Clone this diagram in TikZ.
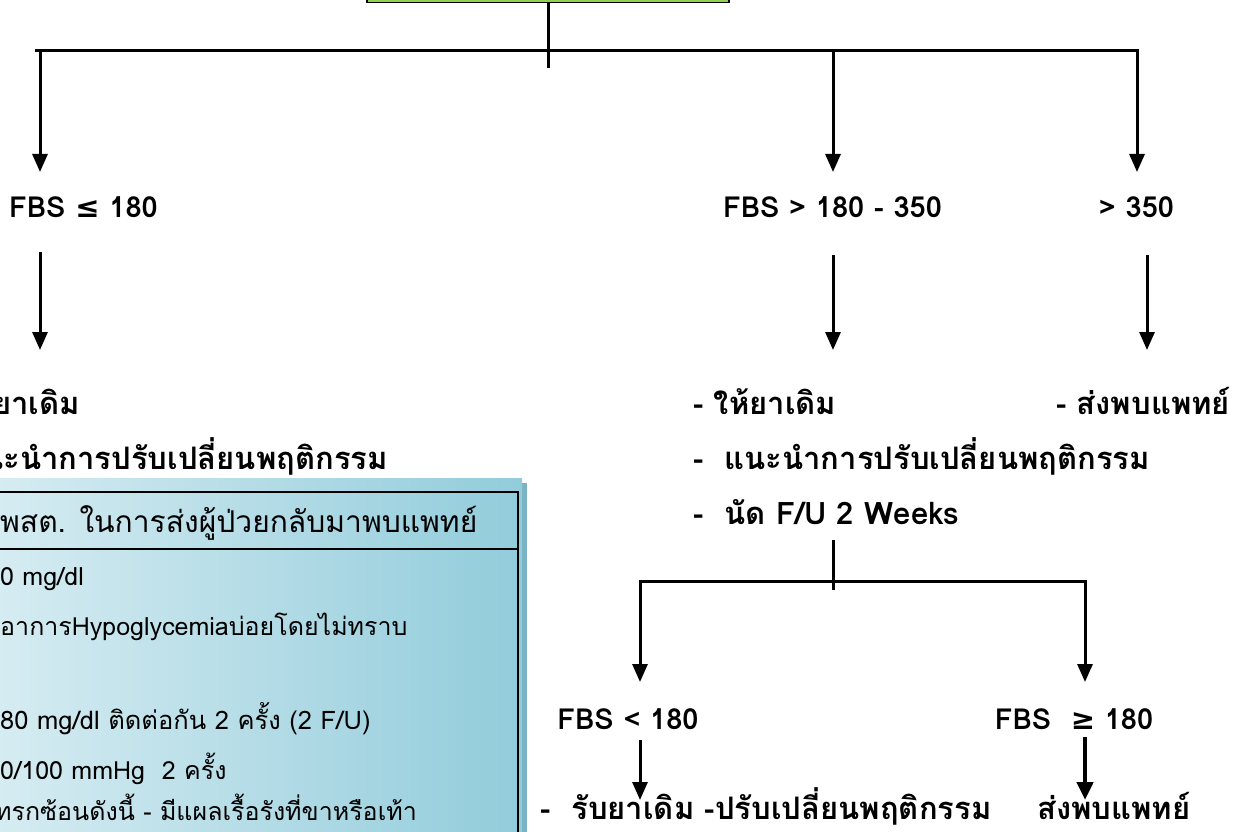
\documentclass[tikz,border=0pt]{standalone}
\usepackage{fontspec}
\setmainfont[Script=Thai]{Loma}
\newfontfamily\symf{DejaVu Sans}
\usetikzlibrary{arrows.meta}
\definecolor{topgreen}{HTML}{92D050}
\definecolor{bluel}{HTML}{D6ECF2}
\definecolor{blued}{HTML}{92CCDB}
\definecolor{blueshadow}{HTML}{7AB3C3}
\begin{document}
\begin{tikzpicture}[x=1pt,y=-1pt,
  lbl/.style={font=\fontsize{31}{34}\selectfont\bfseries, inner sep=0pt},
  fbs/.style={font=\fontsize{29}{32}\selectfont\bfseries, inner sep=0pt, anchor=base},
  tbl/.style={font=\fontsize{25}{28}\selectfont, inner sep=0pt, anchor=base west},
  conn/.style={line width=3pt},
  arr/.style={line width=3pt,-{Triangle[length=18pt,width=15pt]}},
  arrthick/.style={line width=4.5pt,-{Triangle[length=18pt,width=16pt]}},
]
\useasboundingbox (0,0) rectangle (1259,832);
\clip (0,0) rectangle (1259,832);

% top box (mostly off-canvas)
\node[draw, line width=1.8pt, fill=topgreen, minimum width=362pt, minimum height=60pt, anchor=south] (top) at (548,3.5) {};

% main branch
\coordinate (tstub) at (548,68);
\coordinate (hL) at (40,51);
\coordinate (hM) at (833,51);
\coordinate (hR) at (1137,51);
\draw[conn] (top.south) -- (tstub);
\draw[conn] (35,51) -- (1139,51);

% labels level 1
\node[fbs] (fL) at (83.5,218) {FBS {\symf\bfseries ≤} 180};
\node[fbs] (fM) at (832.5,218) {FBS > 180 - 350};
\node[fbs] (fR) at (1136.5,218) {> 350};

\coordinate (aL1) at (40,172);
\coordinate (aM1) at (833,172);
\coordinate (aR1) at (1137,172);
\draw[arr] (hL) -- (aL1);
\draw[arr] (hM) -- (aM1);
\draw[arr] (hR) -- (aR1);

% second arrows
\coordinate (bL0) at (40,252);  \coordinate (bL1) at (40,350);
\coordinate (bM0) at (833,255); \coordinate (bM1) at (833,350);
\coordinate (bR0) at (1147,255); \coordinate (bR1) at (1147,350);
\draw[arr] (bL0) -- (bL1);
\draw[arr] (bM0) -- (bM1);
\draw[arr] (bR0) -- (bR1);

% left actions (cut by the left edge)
\node[lbl, anchor=base east] (lA1) at (80,414) {- ให้ยาเดิม};
\node[lbl, anchor=base east] (lA2) at (388,469) {แนะนำการปรับเปลี่ยนพฤติกรรม};

% right actions
\node[lbl, anchor=base west] (mA1) at (693,414) {- ให้ยาเดิม};
\node[lbl, anchor=base west] (rA1) at (1056,414) {- ส่งพบแพทย์};
\node[lbl, anchor=base west] (mA2) at (693,469) {-\ \ แนะนำการปรับเปลี่ยนพฤติกรรม};
\node[lbl, anchor=base west] (mA3) at (693,524) {-\ \ นัด F/U 2 Weeks};

% sub-branch
\coordinate (s0) at (833,540);
\coordinate (s1) at (833,590);
\coordinate (sL) at (640,581);
\coordinate (sR) at (1085,581);
\draw[conn] (s0) -- (s1);
\draw[conn] (638.5,581) -- (1086.5,581);
\coordinate (sLt) at (640,682);
\coordinate (sRt) at (1085,682);
\draw[arr] (sL) -- (sLt);
\draw[arr] (sR) -- (sRt);

\node[fbs] (gL) at (628,729) {FBS < 180};
\node[fbs] (gR) at (1074,729) {FBS\ \ {\symf\bfseries ≥} 180};

\coordinate (cL0) at (640,740); \coordinate (cL1) at (640,800);
\coordinate (cR0) at (1085,737); \coordinate (cR1) at (1085,800);
\draw[arr] (cL0) -- (cL1);
\draw[arrthick] (cR0) -- (cR1);

\node[lbl, anchor=base west] (hL1) at (540,819) {-\ \ รับยาเดิม -ปรับเปลี่ยนพฤติกรรม};
\node[lbl, anchor=base west] (hR1) at (1037,819) {ส่งพบแพทย์};

% criteria table
\fill[blueshadow] (4,483) rectangle (527,840);
\shade[left color=bluel, right color=blued] (-5,478) rectangle (522,840);
\draw[line width=2pt] (-5,492) rectangle (518,850);
\draw[line width=2pt] (-5,549) -- (518,549);
\node[tbl, font=\fontsize{30}{32}\selectfont] (t0) at (0,532) {พสต. ในการส่งผู้ป่วยกลับมาพบแพทย์};
\node[tbl] (t1) at (0,585) {0 mg/dl};
\node[tbl] (t2) at (0,635) {อาการHypoglycemiaบ่อยโดยไม่ทราบ};
\node[tbl, font=\fontsize{25.5}{28}\selectfont] (t3) at (0,729) {80 mg/dl ติดต่อกัน 2 ครั้ง (2 F/U)};
\node[tbl] (t4) at (0,779) {0/100 mmHg\ \ 2 ครั้ง};
\node[tbl, anchor=base east] (t5) at (417,820) {แทรกซ้อนดังนี้ - มีแผลเรื้อรังที่ขาหรือเท้า};
\end{tikzpicture}
\end{document}
